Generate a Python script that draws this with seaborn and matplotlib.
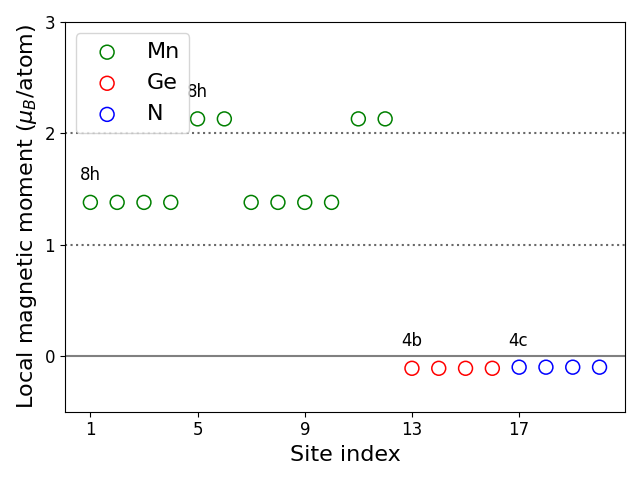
import matplotlib
matplotlib.use('Agg')
import matplotlib.pyplot as plt
import seaborn as sns
import pandas as pd

# Данные: номер позиции и локальный магнитный момент
mn_sites = [1, 2, 3, 4, 5, 6, 7, 8, 9, 10, 11, 12]
mn_moments = [1.38, 1.38, 1.38, 1.38, 2.13, 2.13, 1.38, 1.38, 1.38, 1.38, 2.13, 2.13]
ge_sites = [13, 14, 15, 16]
ge_moments = [-0.11, -0.11, -0.11, -0.11]
n_sites = [17, 18, 19, 20]
n_moments = [-0.10, -0.10, -0.10, -0.10]

elements = ['Mn', 'Ge', 'N']
colors = ['green', 'red', 'blue']

# Подписи Вайкоффовских позиций: (x, y, текст)
wyckoff_x = [1, 5, 13, 17]
wyckoff_y = [1.38, 2.13, -0.11, -0.11]
wyckoff_labels = ['8h', '8h', '4b', '4c']

df = pd.concat([
    pd.DataFrame({'site': mn_sites, 'moment': mn_moments, 'elem': 'Mn'}),
    pd.DataFrame({'site': ge_sites, 'moment': ge_moments, 'elem': 'Ge'}),
    pd.DataFrame({'site': n_sites, 'moment': n_moments, 'elem': 'N'}),
])

fig, ax = plt.subplots(figsize=(6.4, 4.8), dpi=100)

ax.axhline(0, color='grey', lw=1.5)
ax.axhline(1, color='dimgrey', ls=':', lw=1.5)
ax.axhline(2, color='dimgrey', ls=':', lw=1.5)

for elem, c in zip(elements, colors):
    sub = df[df['elem'] == elem]
    sns.scatterplot(x=sub['site'], y=sub['moment'], s=100, marker='o',
                    facecolors='none', edgecolors=c, linewidths=1.1,
                    label=elem, ax=ax)

for x, y, t in zip(wyckoff_x, wyckoff_y, wyckoff_labels):
    ax.text(x - 0.4, y + 0.2, t, fontsize=12)

ax.set_ylim(-0.5, 3)
ax.set_xticks([1, 5, 9, 13, 17])
ax.set_yticks([0, 1, 2, 3])
ax.tick_params(labelsize=12)
ax.set_xlabel('Site index', fontsize=16)
ax.set_ylabel(r'Local magnetic moment ($\mu_B$/atom)', fontsize=16)
ax.legend(loc='upper left', fontsize=16)

plt.tight_layout()
plt.savefig('out.png', dpi=100)
